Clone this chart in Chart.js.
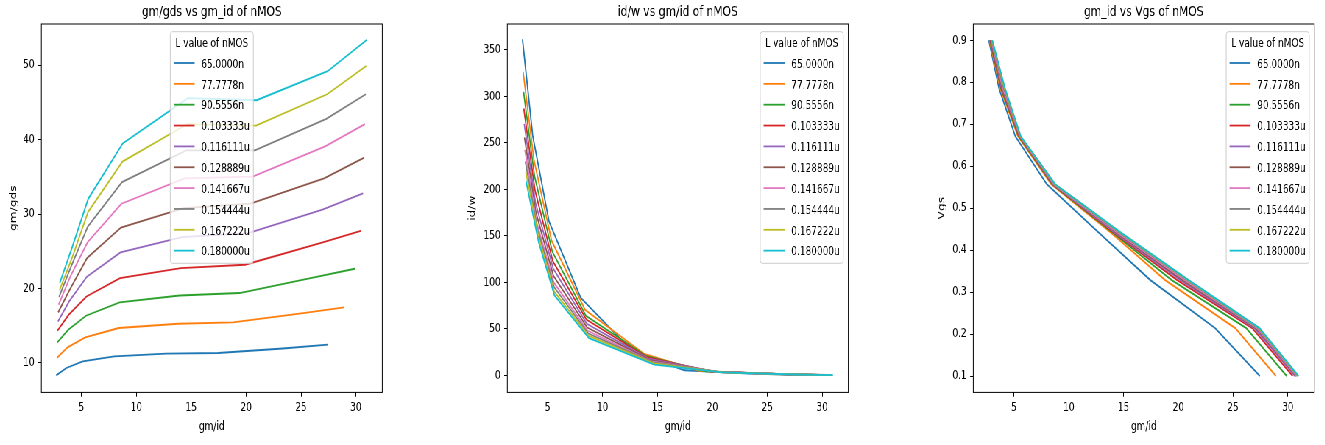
<!DOCTYPE html>
<html>
<head>
<meta charset="utf-8">
<script src="https://cdn.jsdelivr.net/npm/chart.js@4.4.1/dist/chart.umd.min.js"></script>
<style>
html, body { margin: 0; padding: 0; background: #fff; overflow: hidden; width: 1325px; height: 445px; }
/* the figure is laid out wider and squeezed, like the reference picture */
#fig { position: relative; width: 1800px; height: 445px; transform: scaleX(0.736); transform-origin: 0 0; }
#fig canvas { position: absolute; left: 0; top: 0; }
</style>
</head>
<body>
<div id="fig">
  <canvas id="c1" width="1800" height="445"></canvas>
  <canvas id="c2" width="1800" height="445"></canvas>
  <canvas id="c3" width="1800" height="445"></canvas>
</div>
<script>
// L values (legend)
const lengths = ['65.0000n', '77.7778n', '90.5556n', '0.103333u', '0.116111u',
                 '0.128889u', '0.141667u', '0.154444u', '0.167222u', '0.180000u'];
const colors = ['#1f77b4', '#ff7f0e', '#2ca02c', '#d62728', '#9467bd',
                '#8c564b', '#e377c2', '#7f7f7f', '#bcbd22', '#17becf'];

// Vgs sweep points
const vgs = [0.9, 0.7857, 0.6714, 0.5571, 0.4429, 0.3286, 0.2143, 0.1];

// gm/id for each L, one value per Vgs point
const gmId = [
  [2.70, 3.63, 5.12, 8.00, 12.70, 17.45, 23.35, 27.45],
  [2.76, 3.74, 5.35, 8.40, 13.80, 18.80, 25.20, 28.92],
  [2.80, 3.80, 5.42, 8.48, 13.95, 19.40, 26.20, 29.90],
  [2.82, 3.84, 5.46, 8.52, 14.05, 19.90, 26.75, 30.45],
  [2.86, 3.88, 5.50, 8.56, 14.15, 20.20, 26.95, 30.65],
  [2.88, 3.93, 5.52, 8.60, 14.30, 20.40, 27.10, 30.76],
  [2.92, 3.98, 5.55, 8.64, 14.40, 20.60, 27.20, 30.82],
  [2.96, 4.06, 5.58, 8.70, 14.55, 20.80, 27.30, 30.90],
  [3.00, 4.14, 5.60, 8.74, 14.65, 20.90, 27.38, 30.94],
  [3.02, 4.18, 5.62, 8.76, 14.70, 20.95, 27.42, 30.98]
];

// gm/gds
const gmGds = [
  [8.34, 9.33, 10.21, 10.90, 11.25, 11.34, 11.95, 12.46],
  [10.67, 12.10, 13.44, 14.70, 15.27, 15.45, 16.70, 17.46],
  [12.77, 14.47, 16.35, 18.13, 19.07, 19.40, 21.50, 22.66],
  [14.34, 16.48, 18.94, 21.40, 22.75, 23.20, 26.10, 27.76],
  [15.58, 18.27, 21.60, 24.85, 26.90, 27.45, 30.60, 32.80],
  [16.80, 19.84, 24.10, 28.20, 30.80, 31.40, 34.80, 37.60],
  [17.83, 21.60, 26.20, 31.40, 34.80, 35.05, 39.10, 42.10],
  [18.86, 22.97, 28.33, 34.30, 38.55, 38.55, 42.80, 46.10],
  [19.75, 24.10, 30.27, 37.06, 42.10, 41.90, 46.10, 49.90],
  [20.74, 25.65, 32.05, 39.50, 45.57, 45.30, 49.20, 53.40]
];

// id/w
const idW = [
  [361.5, 258, 165.5, 83.5, 26, 5.5, 1.8, 0.6],
  [326.5, 232, 145, 70.5, 23, 4.8, 1.5, 0.5],
  [305, 214, 133, 64, 21, 4.4, 1.3, 0.45],
  [287, 199, 123, 60, 19.5, 4.1, 1.2, 0.4],
  [270.5, 186, 115, 55.5, 18, 3.9, 1.15, 0.38],
  [256, 175, 107, 51.5, 16.5, 3.7, 1.1, 0.36],
  [242.5, 165, 100, 48, 15, 3.5, 1.05, 0.34],
  [230, 157, 95, 45, 14, 3.4, 1.0, 0.32],
  [219, 150, 90, 42.5, 12.8, 3.3, 0.98, 0.31],
  [209, 143, 86, 40, 11.5, 3.2, 0.95, 0.3]
];

const FONT = { family: 'DejaVu Sans', size: 12.2 };
const legendTitle = 'L value of nMOS';

// draws the box, title and legend the way matplotlib does
const mplDecor = {
  id: 'mplDecor',
  afterDatasetsDraw(chart, args, opts) {
    const ctx = chart.ctx;
    const a = chart.chartArea;
    ctx.save();

    ctx.strokeStyle = '#000';
    ctx.lineWidth = 1;
    ctx.strokeRect(a.left, a.top, a.right - a.left, a.bottom - a.top);

    ctx.fillStyle = '#000';
    ctx.font = '14.6px "DejaVu Sans"';
    ctx.textAlign = 'center';
    ctx.textBaseline = 'alphabetic';
    ctx.fillText(opts.title, (a.left + a.right) / 2, 15.7);

    // legend
    ctx.font = '12.2px "DejaVu Sans"';
    const textW = Math.max(...lengths.map(t => ctx.measureText(t).width));
    const titleW = ctx.measureText(legendTitle).width;
    const w = Math.max(titleW, 37.2 + textW) + 9.8;
    const h = 231.6;
    const x0 = opts.legendAlign === 'center' ? (a.left + a.right) / 2 - w / 2 : a.right - 6.8 - w;
    const y0 = a.top + 7.7;

    ctx.beginPath();
    ctx.roundRect(x0, y0, w, h, 3);
    ctx.fillStyle = 'rgba(255,255,255,0.8)';
    ctx.fill();
    ctx.strokeStyle = '#cccccc';
    ctx.lineWidth = 1;
    ctx.stroke();

    ctx.fillStyle = '#000';
    ctx.textAlign = 'center';
    ctx.fillText(legendTitle, x0 + w / 2, y0 + 15);

    ctx.textAlign = 'left';
    lengths.forEach((label, i) => {
      const cy = y0 + 31.3 + i * 20.85;
      ctx.beginPath();
      ctx.moveTo(x0 + 4.6, cy);
      ctx.lineTo(x0 + 33.1, cy);
      ctx.strokeStyle = colors[i];
      ctx.lineWidth = 1.8;
      ctx.stroke();
      ctx.fillStyle = '#000';
      ctx.fillText(label, x0 + 42.1, cy + 4.7);
    });
    ctx.restore();
  }
};

function makeChart(id, panel, xs, ys, xRange, yRange, yStep, title, yLabel, legendAlign) {
  const datasets = lengths.map((label, i) => ({
    label: label,
    data: xs[i].map((x, j) => ({ x: x, y: ys[i][j] })),
    borderColor: colors[i],
    backgroundColor: colors[i],
    borderWidth: 1.8,
    pointRadius: 0,
    showLine: true,
    tension: 0,
    order: lengths.length - i
  }));

  new Chart(document.getElementById(id), {
    type: 'scatter',
    data: { datasets: datasets },
    plugins: [mplDecor],
    options: {
      responsive: false,
      animation: false,
      events: [],
      layout: {
        padding: { top: 24, bottom: 0, left: panel.left - panel.yWidth, right: 1800 - panel.right }
      },
      plugins: {
        legend: { display: false },
        tooltip: { enabled: false },
        mplDecor: { title: title, legendAlign: legendAlign }
      },
      scales: {
        x: {
          type: 'linear',
          min: xRange[0],
          max: xRange[1],
          afterFit: s => { s.height = 52.6; },
          border: { display: false },
          grid: { drawOnChartArea: false, drawTicks: true, tickLength: 4.3, color: '#000' },
          ticks: { stepSize: 5, includeBounds: false, color: '#000', padding: 4.3, maxRotation: 0, autoSkip: false, font: FONT },
          title: { display: true, text: 'gm/id', color: '#000', font: FONT, padding: { top: 0, bottom: 10.7 } }
        },
        y: {
          type: 'linear',
          min: yRange[0],
          max: yRange[1],
          afterFit: s => { s.width = panel.yWidth; },
          border: { display: false },
          grid: { drawOnChartArea: false, drawTicks: true, tickLength: 4.3, color: '#000' },
          ticks: { stepSize: yStep, includeBounds: false, color: '#000', padding: 4.8, autoSkip: false, font: FONT },
          title: { display: true, text: yLabel, color: '#000', font: FONT, padding: { top: 2, bottom: 0 } }
        }
      }
    }
  });
}

// panel edges in the (unsqueezed) figure
const panel1 = { left: 56.2, right: 519.4, yWidth: 46.9 };
const panel2 = { left: 689.3, right: 1152.6, yWidth: 56.6 };
const panel3 = { left: 1322.4, right: 1785.7, yWidth: 51.8 };

const vgsCols = lengths.map(() => vgs);

makeChart('c1', panel1, gmId, gmGds, [1.35, 32.4], [6.05, 55.54], 10, 'gm/gds vs gm_id of nMOS', 'gm/gds', 'center');
makeChart('c2', panel2, gmId, idW, [1.32, 32.38], [-18.3, 377.9], 50, 'id/w vs gm/id of nMOS', 'id/w', 'right');
makeChart('c3', panel3, gmId, vgsCols, [1.28, 32.42], [0.061, 0.939], 0.1, 'gm_id vs Vgs of nMOS', 'Vgs', 'right');
</script>
</body>
</html>
